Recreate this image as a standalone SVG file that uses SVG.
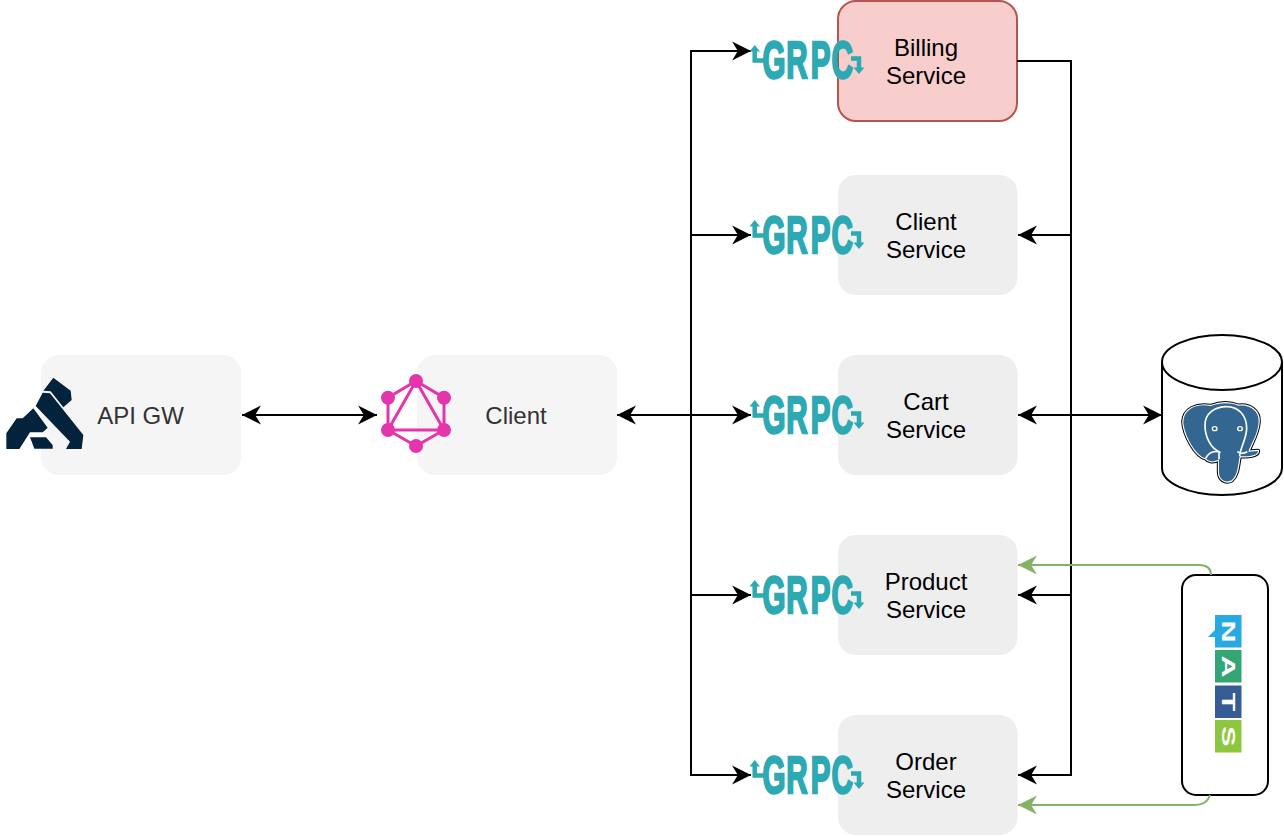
<svg xmlns="http://www.w3.org/2000/svg" width="1284" height="836" viewBox="0 0 1284 836">
<style>
text{font-family:"Liberation Sans",Arial,Helvetica,sans-serif;font-size:24px;text-anchor:middle}
.svc{fill:#eeeeee}
.gw{fill:#f5f5f5}
.dark{fill:#333333}
.wire{fill:none;stroke:#000;stroke-width:2}
.green{fill:none;stroke:#82b366;stroke-width:2}
.grpc-t{font-family:"Liberation Sans",Arial,sans-serif;font-weight:700;font-size:51px;fill:#2da9b3;stroke:#2da9b3;stroke-width:2.4;text-anchor:start}
.grpc-l{fill:none;stroke:#2da9b3;stroke-width:4.5}
.nats{fill:#fff;font-size:19px;font-weight:700}
</style>
<defs>
<marker id="ab" markerUnits="userSpaceOnUse" markerWidth="20" markerHeight="20" refX="18" refY="9.5" orient="auto-start-reverse" viewBox="0 0 19 19"><path d="M18 9.5 L0 .5 L5.5 9.5 L0 18.5 Z" fill="#000"/></marker>
<marker id="ag" markerUnits="userSpaceOnUse" markerWidth="20" markerHeight="20" refX="18" refY="9.5" orient="auto-start-reverse" viewBox="0 0 19 19"><path d="M18 9.5 L0 .5 L5.5 9.5 L0 18.5 Z" fill="#82b366"/></marker>
<g id="grpc-logo">
<text class="grpc-t" transform="translate(762.500 77.800) scale(.58 1)" x="0 41 83 119" y="0">GRPC</text>
<path class="grpc-l" d="M754.700 50V60.500H764M851 58.500H859V69"/>
<path d="M754.700 45L749.500 51.500H760ZM859 74L853.500 67.500H864.500Z" fill="#2da9b3"/>
</g>
<path id="eleph" d="M100 290C102 252 140 235 182 243C210 233 240 232 265 242C298 237 328 257 326 290C323 330 303 355 295 380L324 378C323 393 295 395 269 393C264 420 264 450 245 466C225 476 207 463 207 440V403C190 413 175 410 167 400C137 393 102 330 100 290Z" stroke-linejoin="round"/>
</defs>

<g id="billing-service"><rect x="838" y="1" width="179" height="120" rx="18" fill="#f8cecc" stroke="#b85450" stroke-width="2"/><text x="926" y="56">Billing</text><text x="926" y="84">Service</text></g>
<g id="client-service"><rect class="svc" x="838" y="175" width="179.500" height="120" rx="18"/><text x="926" y="230">Client</text><text x="926" y="258">Service</text></g>
<g id="cart-service"><rect class="svc" x="838" y="355" width="179.500" height="120" rx="18"/><text x="926" y="410">Cart</text><text x="926" y="438">Service</text></g>
<g id="product-service"><rect class="svc" x="838" y="535" width="179.500" height="120" rx="18"/><text x="926" y="590">Product</text><text x="926" y="618">Service</text></g>
<g id="order-service"><rect class="svc" x="838" y="715" width="179.500" height="120" rx="18"/><text x="926" y="770">Order</text><text x="926" y="798">Service</text></g>

<g id="api-gw"><rect class="gw" x="41" y="355" width="200" height="120" rx="18"/><text class="dark" x="140.500" y="424">API GW</text>
<g transform="translate(0 350) scale(.33333)" fill="#03223c">
<path d="M130 122L160 83L212 122L215 150L190 172L152 124Z"/>
<path d="M107 168L128 128L150 130L250 255L245 297H198L210 275Z"/>
<path d="M19 250L50 205H68L100 175L143 233L128 247H90L58 297H19Z"/>
<path d="M90 262H138L158 285V296H103Z"/>
</g></g>

<g id="client"><rect class="gw" x="417" y="355" width="200" height="120" rx="18"/><text class="dark" x="516" y="424">Client</text>
<g stroke="#e535ab" stroke-width="3" fill="none"><path d="M416 381L444 397.700V430L416 446L388 430V397.700ZM416 381L444 430H388Z"/></g>
<g fill="#e535ab"><circle cx="416" cy="381" r="7"/><circle cx="444" cy="397.700" r="7"/><circle cx="444" cy="430" r="7"/><circle cx="416" cy="446" r="7"/><circle cx="388" cy="430" r="7"/><circle cx="388" cy="397.700" r="7"/></g></g>

<g id="postgres"><path d="M1162 362C1162 347 1189 335 1222 335S1282 347 1282 362V468C1282 483 1255 495 1222 495S1162 483 1162 468Z" fill="#fff" stroke="#000" stroke-width="2"/><path d="M1162 362C1162 377 1189 390 1222 390S1282 377 1282 362" fill="none" stroke="#000" stroke-width="2"/>
<g transform="translate(1150 325) scale(.33333)">
<use href="#eleph" fill="none" stroke="#000" stroke-width="13"/>
<use href="#eleph" fill="none" stroke="#fff" stroke-width="7"/>
<use href="#eleph" fill="#336791"/>
<path d="M207 403V380C185 370 165 340 165 300C165 265 195 245 230 245C265 245 290 270 290 310C290 340 272 365 269 393M167 400C175 385 190 375 212 382M292 380C280 387 272 387 262 380" fill="none" stroke="#fff" stroke-width="5"/>
<ellipse cx="194" cy="311" rx="7" ry="6" fill="#336791" stroke="#fff" stroke-width="4"/><ellipse cx="270" cy="311" rx="7" ry="6" fill="#336791" stroke="#fff" stroke-width="4"/>
</g></g>

<g id="nats"><rect x="1182" y="575" width="86" height="220" rx="14" fill="#fff" stroke="#000" stroke-width="2"/>
<path d="M1208 637L1215 630V637Z" fill="#27aae1"/>
<rect x="1215" y="615" width="26.500" height="32.500" fill="#27aae1"/><rect x="1215" y="650" width="26.500" height="32.500" fill="#34a574"/><rect x="1215" y="685.500" width="26.500" height="32.500" fill="#375c93"/><rect x="1215" y="720" width="26.500" height="32.500" fill="#8dc63f"/>
<text class="nats" transform="translate(1221.500 631.500) rotate(90) scale(1.6 1)">N</text><text class="nats" transform="translate(1221.500 666.500) rotate(90) scale(1.6 1)">A</text><text class="nats" transform="translate(1221.500 702) rotate(90) scale(1.6 1)">T</text><text class="nats" transform="translate(1221.500 736.500) rotate(90) scale(1.6 1)">S</text></g>

<g id="connectors">
<path class="wire" d="M242 415H377" marker-start="url(#ab)" marker-end="url(#ab)"/>
<path class="wire" d="M617 415H751" marker-start="url(#ab)" marker-end="url(#ab)"/>
<path class="wire" d="M691 415V51H751" marker-end="url(#ab)"/>
<path class="wire" d="M691 235H751" marker-end="url(#ab)"/>
<path class="wire" d="M691 595H751" marker-end="url(#ab)"/>
<path class="wire" d="M691 415V775H751" marker-end="url(#ab)"/>
<path class="wire" d="M1017 61H1071V775H1018" marker-end="url(#ab)"/>
<path class="wire" d="M1071 235H1018" marker-end="url(#ab)"/>
<path class="wire" d="M1071 595H1018" marker-end="url(#ab)"/>
<path class="wire" d="M1018 415H1162" marker-start="url(#ab)" marker-end="url(#ab)"/>
<path class="green" d="M1211 575Q1211 565 1199 565H1018" marker-end="url(#ag)"/>
<path class="green" d="M1210 795Q1207 805 1195 805H1018" marker-end="url(#ag)"/>
</g>

<g id="grpc-icons">
<use href="#grpc-logo"/>
<use href="#grpc-logo" y="175"/>
<use href="#grpc-logo" y="355"/>
<use href="#grpc-logo" y="535"/>
<use href="#grpc-logo" y="715"/>
</g>
</svg>
